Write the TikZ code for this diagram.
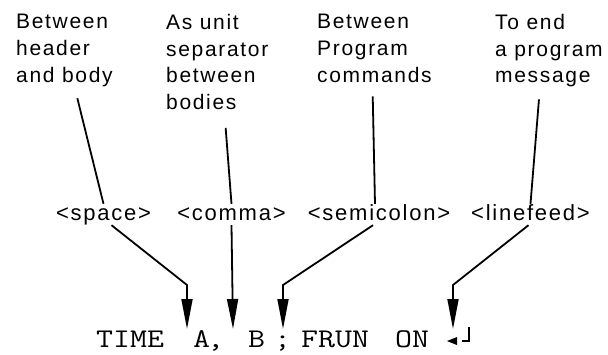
\documentclass[tikz,border=0pt]{standalone}
\usepackage{fontspec}
\usepackage{graphicx}
\newfontfamily\notefont{Liberation Sans}[LetterSpace=8]
\usetikzlibrary{arrows.meta}
\newcommand\codetext[1]{\scalebox{1.22}[1]{#1}}
\tikzset{
  note/.style={anchor=north west,align=left,inner sep=0pt,font=\notefont\fontsize{21}{26.7}\selectfont},
  sepname/.style={anchor=base,inner sep=0pt,text height=16pt,text depth=5pt,font=\notefont\fontsize{22}{26}\selectfont},
  code/.style={anchor=base west,inner sep=0pt,text depth=0pt,font=\ttfamily\fontsize{27}{30}\selectfont},
  conn/.style={line width=1.8pt},
  pointer/.style={line width=1.8pt,-{Triangle[length=30pt,width=11pt]}}
}
\begin{document}
\begin{tikzpicture}[x=1pt,y=-1pt]
  \useasboundingbox (0,0) rectangle (608,354);
  % what each separator is for
  \node[note] (noteSpace) at (16,14) {Between\\header\\and body};
  \node[note] (noteComma) at (166,14) {As unit\\separator\\between\\bodies};
  \node[note] (noteSemi) at (317,14) {Between\\Program\\commands};
  \node[note] (noteLf) at (495,14) {To end\\a program\\message};
  % separator names
  \node[sepname] (labSpace) at (103.5,220) {<space>};
  \node[sepname] (labComma) at (231.5,220) {<comma>};
  \node[sepname] (labSemi) at (379,220) {<semicolon>};
  \node[sepname] (labLf) at (530.5,220) {<linefeed>};
  % the program message
  \node[code] (tTime) at (96,347) {\codetext{TIME}};
  \node[code] (tA) at (193,347) {\codetext{A}};
  \node[code] (tComma) at (207,347) {\codetext{,}};
  \node[code] (tB) at (248,347) {\codetext{B}};
  \node[code] (tSemi) at (274,347) {\codetext{;}};
  \node[code] (tFrun) at (301,347) {\codetext{FRUN}};
  \node[code] (tOn) at (395,347) {\codetext{ON}};
  \coordinate (retSym) at (447,341);
  \fill (retSym) -- ++(10,-4) -- ++(0,8) -- cycle;
  \draw[line width=1.2pt] ([xshift=15pt]retSym) -- ++(7,0) -- ++(0,-14);
  % arrow tips
  \coordinate (tipSpace) at (187,329);
  \coordinate (tipComma) at (233,329);
  \coordinate (tipSemi) at (283,329);
  \coordinate (tipLf) at (453,329);
  \draw[conn,shorten <=12pt] ([xshift=10pt]noteSpace.south) -- (labSpace.north);
  \draw[conn,shorten <=18pt] ([xshift=7pt]noteComma.south) -- (labComma.north);
  \draw[conn,shorten <=14pt] ([xshift=-2pt]noteSemi.south) -- ([xshift=-4pt]labSemi.north);
  \draw[conn,shorten <=12pt] ([xshift=-9pt]noteLf.south) -- (labLf.north);
  \draw[pointer] ([xshift=8pt]labSpace.south) -- ([yshift=44pt]tipSpace) -- (tipSpace);
  \draw[pointer] (labComma.south) -- (tipComma);
  \draw[pointer] ([xshift=-6pt]labSemi.south) -- ([yshift=44pt]tipSemi) -- (tipSemi);
  \draw[pointer] ([xshift=-2pt]labLf.south) -- ([yshift=44pt]tipLf) -- (tipLf);
\end{tikzpicture}
\end{document}
